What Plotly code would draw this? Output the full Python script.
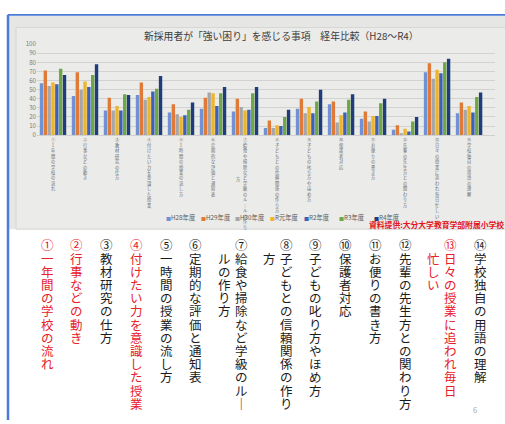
import plotly.graph_objects as go

# ---------------- data ----------------
categories = ["①1年間の学校の流れ", "②行事などの動き", "③教材研究の仕方",
              "④付けたい力を意識した授業", "⑤1時間の授業の流し方", "⑥定期的な評価と通知表",
              "⑦給食や掃除など学級のルールの作り方", "⑧子どもとの信頼関係の作り方",
              "⑨子どもの叱り方やほめ方", "⑩保護者対応", "⑪お便りの書き方",
              "⑫先輩の先生方との関わり方", "⑬日々の授業に追われ毎日忙しい", "⑭学校独自の用語の理解"]

series_names = ["H28年度", "H29年度", "H30年度", "R元年度", "R2年度", "R3年度", "R4年度"]

h28 = [57, 43, 27, 44, 25, 29, 26, 8, 29, 34, 18, 6, 69, 24]
h29 = [71, 69, 41, 58, 34, 41, 40, 16, 40, 37, 26, 11, 79, 36]
h30 = [54, 50, 27, 39, 23, 47, 31, 8, 24, 14, 15, 2, 62, 28]
r1 = [58, 59, 32, 42, 20, 46, 27, 11, 31, 22, 21, 7, 72, 32]
r2 = [56, 53, 27, 48, 22, 32, 28, 10, 24, 25, 21, 4, 68, 25]
r3 = [73, 66, 45, 51, 28, 46, 46, 20, 37, 39, 35, 15, 80, 42]
r4 = [66, 78, 44, 65, 36, 53, 53, 28, 50, 45, 40, 20, 84, 47]

title_text = "新採用者が「強い困り」を感じる事項　経年比較（H28～R4）"
source_text = "資料提供:大分大学教育学部附属小学校"

item_numbers = ["①", "②", "③", "④", "⑤", "⑥", "⑦", "⑧", "⑨", "⑩", "⑪", "⑫", "⑬", "⑭"]
item_texts = ["一年間の学校の流れ", "行事などの動き", "教材研究の仕方", "付けたい力を意識した授業",
              "一時間の授業の流し方", "定期的な評価と通知表", "給食や掃除など学級のルールの作り方",
              "子どもとの信頼関係の作り方", "子どもの叱り方やほめ方", "保護者対応", "お便りの書き方",
              "先輩の先生方との関わり方", "日々の授業に追われ毎日忙しい", "学校独自の用語の理解"]
highlighted = [0, 1, 3, 12]
page_number = "6"

# ---------------- styles / layout ----------------
W, H = 505, 424
series_values = [h28, h29, h30, r1, r2, r3, r4]
colors = ["#6f92d2", "#e07a38", "#a6a6a6", "#f0b42a", "#3b62b4", "#6ea846", "#1f3c7c"]
JP = "Noto Sans CJK JP"
VERT = {"ー": "｜"}


def px(x):
    return x / W


def py(y):
    return 1 - y / H


def stack(s):
    return "<br>".join(VERT.get(c, c) for c in s)


def note(text, x, y, size, color, xanchor="center", height=None):
    d = dict(text=text, x=px(x), y=py(y), xref="paper", yref="paper",
             xanchor=xanchor, yanchor="middle", showarrow=False, borderpad=0,
             font=dict(family=JP, size=size, color=color))
    if height is not None:
        d["height"] = height
    return d


fig = go.Figure()
for name, vals, col in zip(series_names, series_values, colors):
    fig.add_trace(go.Bar(x=categories, y=vals, name=name, marker_color=col,
                         marker_line_width=0, showlegend=False))

# tick labels (vertical, stacked); ⑦ wraps its last char to a second column
tick_text = [stack(c) for c in categories]
tick_text[6] = stack(categories[6][:-1])

shapes = [
    dict(type="rect", xref="paper", yref="paper", x0=px(9), x1=1.0, y0=py(229), y1=py(11),
         fillcolor="#e6e6e4", line_width=0, layer="below"),
    dict(type="rect", xref="paper", yref="paper", x0=px(16), x1=1.01, y0=py(229), y1=py(23),
         fillcolor="#ebebe9", line=dict(color="#d6d6d4", width=1), layer="below"),
    dict(type="line", xref="paper", yref="paper", x0=px(8), x1=px(8), y0=0, y1=py(10),
         line=dict(color="#4a7bd8", width=2.5)),
    dict(type="line", xref="paper", yref="paper", x0=px(8), x1=1.0, y0=py(10), y1=py(10),
         line=dict(color="#4a7bd8", width=1.8)),
]

ann = []
ann.append(note(title_text, 281, 32, 9.8, "#3c3c3c"))
# wrapped char of ⑦ chart label
ann.append(note(categories[6][-1], 238, 178, 4.2, "#6a6a6a"))
# legend
for i, (name, col) in enumerate(zip(series_names, colors)):
    ann.append(note(f"<span style='color:{col};font-size:5px'>■</span>{name}",
                    165 + i * 34.6, 217.5, 6.3, "#5a5a5a", xanchor="left"))
ann.append(note("<b>" + source_text + "</b>", 368, 224.5, 7.8, "#e3141b", xanchor="left"))

# bottom vertical text columns
col_x = [47, 76, 106, 136, 166, 195, 241, 286, 315, 345, 375, 405, 450, 480]
col_wrap = {6: 12, 7: 12, 12: 11}
second_col_dx = -17
head_y, first_y, step = 245, 258.5, 13.5
for i, (num, txt) in enumerate(zip(item_numbers, item_texts)):
    c = "#e8202a" if i in highlighted else "#1c1c1c"
    ann.append(note(num, col_x[i], head_y, 12.5, c, height=13))
    cap = col_wrap.get(i, len(txt))
    for k, part in enumerate([txt[:cap], txt[cap:]]):
        cx = col_x[i] + k * second_col_dx
        for j, ch in enumerate(part):
            ann.append(note(VERT.get(ch, ch), cx, first_y + j * step, 12.5, c, height=13))
ann.append(note(page_number, 475, 413, 7.5, "#a8a8a8"))

fig.update_layout(
    width=W, height=H, autosize=False,
    margin=dict(l=0, r=0, t=0, b=0),
    paper_bgcolor="white", plot_bgcolor="rgba(0,0,0,0)",
    barmode="group", bargap=0.16, bargroupgap=0.12,
    shapes=shapes, annotations=ann,
    font=dict(family=JP),
    xaxis=dict(domain=[px(37), px(495)], range=[-0.5, 13.81], tickvals=categories,
               ticktext=tick_text, tickfont=dict(family=JP, size=4.2, color="#6a6a6a"),
               showgrid=False, showline=True, linecolor="#cfcfcf", linewidth=1,
               ticks="", zeroline=False, fixedrange=True),
    yaxis=dict(domain=[py(133), py(40)], range=[0, 100], dtick=10,
               tickfont=dict(family=JP, size=6.2, color="#7c7c7c"),
               gridcolor="#d2d2d0", gridwidth=0.8, zeroline=False, showline=False,
               ticks="", fixedrange=True),
)

fig.write_html("out.html")
